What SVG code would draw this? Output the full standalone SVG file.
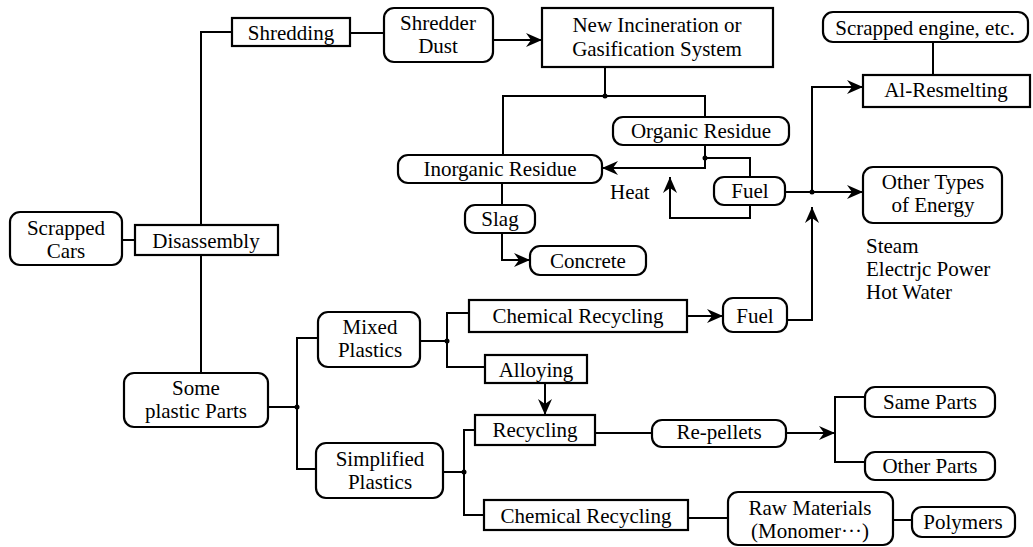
<svg xmlns="http://www.w3.org/2000/svg" width="1033" height="547" viewBox="0 0 1033 547">
<defs>
<style>
.box{fill:#fff;stroke:#000;stroke-width:2.2}
.ln{fill:none;stroke:#000;stroke-width:2}
.t{font-family:"Liberation Serif","DejaVu Serif",serif;font-size:21px;fill:#000;text-anchor:middle}
.l{font-family:"Liberation Serif","DejaVu Serif",serif;font-size:21px;fill:#000}
.dot{fill:#000}
</style>
<marker id="arr" markerUnits="userSpaceOnUse" markerWidth="17" markerHeight="14" refX="16" refY="7" orient="auto">
<path d="M0,0 L16,7 L0,14 L5,7 z" fill="#000"/>
</marker>
</defs>
<rect width="1033" height="547" fill="#fff"/>
<g id="connectors">
<path class="ln" d="M122,240 H135"/>
<path class="ln" d="M232,32 H201 V225"/>
<path class="ln" d="M201,255 V373"/>
<path class="ln" d="M350,33 H384"/>
<path class="ln" d="M493,40 H542" marker-end="url(#arr)"/>
<path class="ln" d="M605,67 V96"/>
<path class="ln" d="M503,155 V96 H705 V117"/>
<path class="ln" d="M705,145 V168 H602" marker-end="url(#arr)"/>
<path class="ln" d="M705,158 H750 V177"/>
<path class="ln" d="M750,205 V218 H670 V177" marker-end="url(#arr)"/>
<path class="ln" d="M785,192 H863" marker-end="url(#arr)"/>
<path class="ln" d="M812,192 V87 H863" marker-end="url(#arr)"/>
<path class="ln" d="M933,42 V75"/>
<path class="ln" d="M787,320 H812 V207" marker-end="url(#arr)"/>
<path class="ln" d="M502,183 V205"/>
<path class="ln" d="M502,233 V260 H530" marker-end="url(#arr)"/>
<path class="ln" d="M268,407 H297"/>
<path class="ln" d="M318,338 H297 V469 H316"/>
<path class="ln" d="M420,341 H447"/>
<path class="ln" d="M469,313 H447 V367 H485"/>
<path class="ln" d="M687,316 H723" marker-end="url(#arr)"/>
<path class="ln" d="M545,383 V415" marker-end="url(#arr)"/>
<path class="ln" d="M443,472 H464"/>
<path class="ln" d="M475,430 H464 V515 H484"/>
<path class="ln" d="M595,433 H652"/>
<path class="ln" d="M786,433 H835" marker-end="url(#arr)"/>
<path class="ln" d="M865,397 H835 V462 H865"/>
<path class="ln" d="M688,518 H728"/>
<path class="ln" d="M893,520 H912"/>
<circle class="dot" cx="605" cy="96" r="2.5"/>
<circle class="dot" cx="705" cy="158" r="2.5"/>
<circle class="dot" cx="812" cy="192" r="2.5"/>
<circle class="dot" cx="297" cy="407" r="2.5"/>
<circle class="dot" cx="447" cy="341" r="2.5"/>
<circle class="dot" cx="464" cy="472" r="2.5"/>
</g>
<g id="scrapped-cars"><rect class="box" x="10" y="212" width="112" height="53" rx="10"/><text class="t" x="66" y="235">Scrapped</text><text class="t" x="66" y="258">Cars</text></g>
<g id="disassembly"><rect class="box" x="135" y="225" width="143" height="30"/><text class="t" x="206" y="248">Disassembly</text></g>
<g id="shredding"><rect class="box" x="232" y="18" width="118" height="28"/><text class="t" x="291" y="40">Shredding</text></g>
<g id="shredder-dust"><rect class="box" x="384" y="8" width="109" height="54" rx="10"/><text class="t" x="438" y="30">Shredder</text><text class="t" x="438" y="53">Dust</text></g>
<g id="incineration"><rect class="box" x="542" y="8" width="231" height="59"/><text class="t" x="657" y="32">New Incineration or</text><text class="t" x="657" y="56">Gasification System</text></g>
<g id="scrapped-engine"><rect class="box" x="823" y="12" width="205" height="30" rx="10"/><text class="t" x="925" y="35">Scrapped engine, etc.</text></g>
<g id="al-resmelting"><rect class="box" x="863" y="75" width="167" height="32"/><text class="t" x="946" y="97">Al-Resmelting</text></g>
<g id="organic-residue"><rect class="box" x="613" y="117" width="176" height="28" rx="10"/><text class="t" x="701" y="138">Organic Residue</text></g>
<g id="inorganic-residue"><rect class="box" x="398" y="155" width="204" height="28" rx="10"/><text class="t" x="500" y="176">Inorganic Residue</text></g>
<g id="heat"><text class="l" x="610" y="199">Heat</text></g>
<g id="fuel-1"><rect class="box" x="714" y="177" width="71" height="28" rx="10"/><text class="t" x="750" y="198">Fuel</text></g>
<g id="slag"><rect class="box" x="465" y="205" width="70" height="28" rx="10"/><text class="t" x="500" y="226">Slag</text></g>
<g id="concrete"><rect class="box" x="530" y="246" width="116" height="29" rx="10"/><text class="t" x="588" y="268">Concrete</text></g>
<g id="other-energy"><rect class="box" x="863" y="167" width="139" height="56" rx="10"/><text class="t" x="933" y="189">Other Types</text><text class="t" x="933" y="212">of Energy</text></g>
<g id="energy-list"><text class="l" x="866" y="253">Steam</text><text class="l" x="866" y="276">Electrjc Power</text><text class="l" x="866" y="299">Hot Water</text></g>
<g id="some-plastic-parts"><rect class="box" x="124" y="373" width="144" height="54" rx="10"/><text class="t" x="196" y="395">Some</text><text class="t" x="196" y="418">plastic Parts</text></g>
<g id="mixed-plastics"><rect class="box" x="318" y="312" width="102" height="55" rx="10"/><text class="t" x="370" y="334">Mixed</text><text class="t" x="370" y="357">Plastics</text></g>
<g id="simplified-plastics"><rect class="box" x="316" y="443" width="127" height="55" rx="10"/><text class="t" x="380" y="466">Simplified</text><text class="t" x="380" y="489">Plastics</text></g>
<g id="chemical-recycling-1"><rect class="box" x="469" y="300" width="218" height="32"/><text class="t" x="578" y="323">Chemical Recycling</text></g>
<g id="alloying"><rect class="box" x="485" y="355" width="102" height="28"/><text class="t" x="536" y="377">Alloying</text></g>
<g id="fuel-2"><rect class="box" x="723" y="298" width="64" height="34" rx="10"/><text class="t" x="755" y="323">Fuel</text></g>
<g id="recycling"><rect class="box" x="475" y="415" width="120" height="30"/><text class="t" x="535" y="437">Recycling</text></g>
<g id="re-pellets"><rect class="box" x="652" y="420" width="134" height="27" rx="10"/><text class="t" x="719" y="439">Re-pellets</text></g>
<g id="same-parts"><rect class="box" x="865" y="387" width="130" height="30" rx="10"/><text class="t" x="930" y="409">Same Parts</text></g>
<g id="other-parts"><rect class="box" x="865" y="452" width="130" height="28" rx="10"/><text class="t" x="930" y="473">Other Parts</text></g>
<g id="chemical-recycling-2"><rect class="box" x="484" y="500" width="204" height="30"/><text class="t" x="586" y="523">Chemical Recycling</text></g>
<g id="raw-materials"><rect class="box" x="728" y="492" width="165" height="53" rx="10"/><text class="t" x="810" y="515">Raw Materials</text><text class="t" x="810" y="538">(Monomer···)</text></g>
<g id="polymers"><rect class="box" x="912" y="507" width="103" height="30" rx="10"/><text class="t" x="963" y="529">Polymers</text></g>
</svg>
